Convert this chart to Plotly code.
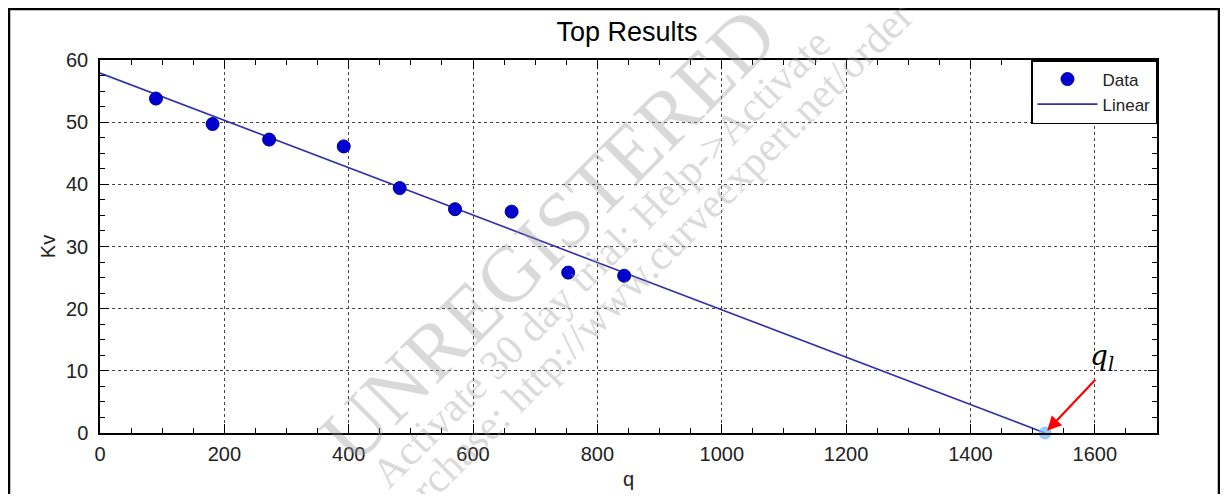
import plotly.graph_objects as go

# data
q_data = [90, 181, 272, 392, 482, 571, 662, 753, 843]
kv_data = [53.8, 49.7, 47.2, 46.1, 39.4, 36.0, 35.6, 25.8, 25.3]

q_fit = [0, 1520]
kv_fit = [57.9, 0]

q_l = [1520]
kv_l = [0]

x_ticks = [0, 200, 400, 600, 800, 1000, 1200, 1400, 1600]
y_ticks = [0, 10, 20, 30, 40, 50, 60]

watermark = [
    ("UNREGISTERED", 0.424, 0.531, 80),
    ("Activate 30 day trial: Help->Activate", 0.474, 0.469, 42),
    ("Purchase: http://www.curveexpert.net/order", 0.517, 0.442, 42),
]

# page layout (the page adds an 8px body margin around the figure)
W, H = 1212, 486
L, T, R, B = 92, 52, 63, 61
PW, PH = W - L - R, H - T - B

fig = go.Figure()

fig.add_trace(
    go.Scatter(
        x=q_fit,
        y=kv_fit,
        mode="lines",
        name="Linear",
        line=dict(color="#2f2fb0", width=1.6),
    )
)
fig.add_trace(
    go.Scatter(
        x=q_data,
        y=kv_data,
        mode="markers",
        name="Data",
        marker=dict(color="#0000d0", size=13, line=dict(color="#00008a", width=1)),
    )
)
fig.add_trace(
    go.Scatter(
        x=q_l,
        y=kv_l,
        mode="markers",
        showlegend=False,
        marker=dict(color="rgba(110,190,250,0.75)", size=13),
        cliponaxis=False,
    )
)

axis_common = dict(
    showline=True,
    linecolor="black",
    linewidth=1.5,
    mirror="allticks",
    ticks="inside",
    ticklen=9,
    tickwidth=1.2,
    tickcolor="black",
    showgrid=True,
    gridcolor="#444444",
    griddash="dot",
    gridwidth=1,
    zeroline=False,
    automargin=False,
    tickfont=dict(family="Liberation Sans, Arial", size=20, color="#222222"),
)

fig.update_xaxes(
    range=[0, 1700],
    tickvals=x_ticks,
    minor=dict(dtick=50, ticks="inside", ticklen=5, tickcolor="black", showgrid=False),
    title=dict(text="q", font=dict(family="Liberation Sans, Arial", size=20, color="#222222"), standoff=8),
    ticklabelstandoff=2,
    **axis_common,
)
fig.update_yaxes(
    range=[0, 60],
    tickvals=y_ticks,
    minor=dict(dtick=2.5, ticks="inside", ticklen=5, tickcolor="black", showgrid=False),
    title=dict(text="Kv", font=dict(family="Liberation Sans, Arial", size=20, color="#222222"), standoff=5),
    ticklabelstandoff=6,
    **axis_common,
)

annotations = []
for text, x, y, size in watermark:
    annotations.append(
        dict(
            text=text,
            x=x,
            y=y,
            xref="paper",
            yref="paper",
            showarrow=False,
            textangle=-45,
            font=dict(family="Liberation Serif, Times New Roman", size=size, color="rgba(150,150,150,0.36)"),
        )
    )

# q_l label and red arrow pointing at the intercept
annotations.append(
    dict(
        x=q_l[0],
        y=kv_l[0],
        ax=1603,
        ay=8.8,
        xref="x",
        yref="y",
        axref="x",
        ayref="y",
        text="",
        showarrow=True,
        arrowhead=2,
        arrowsize=1.3,
        arrowwidth=2.2,
        arrowcolor="#ff0000",
        standoff=3,
    )
)
annotations.append(
    dict(
        x=1611,
        y=12.2,
        xref="x",
        yref="y",
        text="<i>q<sub>l</sub></i>",
        showarrow=False,
        font=dict(family="DejaVu Serif, Liberation Serif", size=28, color="black"),
    )
)

fig.update_layout(
    width=W,
    height=H,
    margin=dict(l=L, r=R, t=T, b=B),
    paper_bgcolor="white",
    plot_bgcolor="white",
    title=dict(
        text="Top Results",
        x=(627 - 8) / W,
        xanchor="center",
        y=1 - 24 / H,
        yanchor="middle",
        font=dict(family="Liberation Sans, Arial", size=27, color="black"),
    ),
    legend=dict(
        x=1,
        y=1,
        xanchor="right",
        yanchor="top",
        bgcolor="white",
        bordercolor="black",
        borderwidth=1.5,
        traceorder="reversed",
        itemwidth=60,
        font=dict(family="Liberation Sans, Arial", size=17, color="#222222"),
    ),
    annotations=annotations,
    shapes=[
        dict(
            type="rect",
            xref="paper",
            yref="paper",
            x0=(1 - L) / PW,
            x1=(1211 - L) / PW,
            y0=(T + PH - 520) / PH,
            y1=(T + PH - 1) / PH,
            line=dict(color="black", width=2.5),
        )
    ],
    showlegend=True,
)

fig.write_html("out.html")
